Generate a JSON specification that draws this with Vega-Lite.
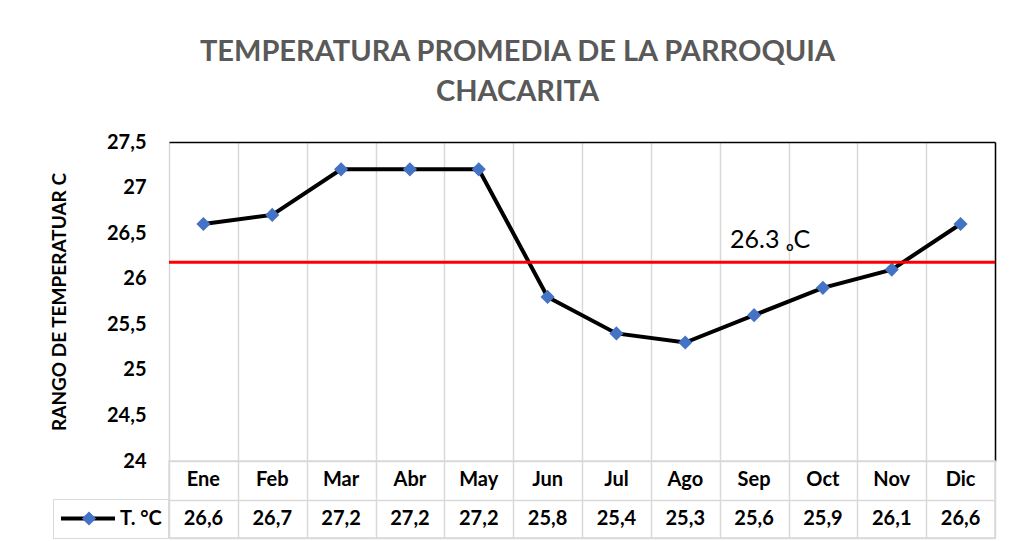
{
  "$schema": "https://vega.github.io/schema/vega-lite/v6.json",
  "background": "white",
  "padding": {"left": 50, "right": 16, "top": 38, "bottom": 4},
  "config": {
    "locale": {"number": {"decimal": ",", "thousands": ".", "grouping": [3], "currency": ["", " €"]}},
    "font": "Lato",
    "view": {"stroke": null}
  },
  "title": {
    "text": ["TEMPERATURA PROMEDIA DE LA PARROQUIA", "CHACARITA"],
    "fontSize": 29, "fontWeight": "bold", "color": "#595959", "lineHeight": 40,
    "anchor": "middle", "frame": "bounds", "offset": 25, "dx": -6, "font": "Lato"
  },
  "datasets": {
    "temps": [
      {"mes": "Ene", "temp": 26.6},
      {"mes": "Feb", "temp": 26.7},
      {"mes": "Mar", "temp": 27.2},
      {"mes": "Abr", "temp": 27.2},
      {"mes": "May", "temp": 27.2},
      {"mes": "Jun", "temp": 25.8},
      {"mes": "Jul", "temp": 25.4},
      {"mes": "Ago", "temp": 25.3},
      {"mes": "Sep", "temp": 25.6},
      {"mes": "Oct", "temp": 25.9},
      {"mes": "Nov", "temp": 26.1},
      {"mes": "Dic", "temp": 26.6}
    ],
    "referencia": [
      {"mes": "Sep", "valor": 26.18, "etiqueta": "26.3 ₒC"}
    ]
  },
  "bounds": "flush",
  "spacing": 0,
  "vconcat": [
    {
      "width": 826,
      "height": 319,
      "layer": [
        {
          "data": {"name": "temps"},
          "mark": {"type": "line", "strokeWidth": 4},
          "encoding": {
            "x": {"field": "mes", "type": "ordinal", "sort": null,
                  "scale": {"type": "band", "domain": ["Ene", "Feb", "Mar", "Abr", "May", "Jun", "Jul", "Ago", "Sep", "Oct", "Nov", "Dic"], "paddingInner": 0, "paddingOuter": 0},
                  "axis": {"orient": "bottom", "grid": true, "gridColor": "#d9d9d9", "gridWidth": 1.5, "tickBand": "extent",
                           "labels": false, "ticks": false, "domain": false, "title": null}},
            "y": {"field": "temp", "type": "quantitative",
                  "scale": {"domain": [24, 27.5], "nice": false, "zero": false},
                  "axis": {"orient": "left", "values": [24, 24.5, 25, 25.5, 26, 26.5, 27, 27.5], "format": ".1~f",
                           "grid": false, "domain": false, "ticks": false,
                           "labelFontSize": 20, "labelFontWeight": "bold", "labelColor": "black", "labelPadding": 23, "labelFont": "Lato",
                           "title": "RANGO DE TEMPERATUAR  C", "titleFontSize": 19, "titleFontWeight": "bold", "titleColor": "black",
                           "titlePadding": 37, "titleFont": "Lato"}},
            "stroke": {"datum": "T. °C", "scale": {"range": ["#000000"]},
                       "legend": {"orient": "none", "legendX": -116, "legendY": 357, "title": null,
                                  "symbolType": "stroke", "symbolSize": 2916, "symbolStrokeWidth": 4,
                                  "clipHeight": 27, "padding": 6, "strokeColor": "#d9d9d9",
                                  "labelFontSize": 20, "labelFontWeight": "bold", "labelColor": "black",
                                  "labelOffset": 3, "labelFont": "Lato"}}
          }
        },
        {
          "data": {"name": "temps"},
          "mark": {"type": "point", "shape": "diamond", "filled": true, "size": 200, "opacity": 1, "strokeWidth": 0},
          "encoding": {
            "x": {"field": "mes", "type": "ordinal", "sort": null,
                  "scale": {"type": "band", "domain": ["Ene", "Feb", "Mar", "Abr", "May", "Jun", "Jul", "Ago", "Sep", "Oct", "Nov", "Dic"], "paddingInner": 0, "paddingOuter": 0},
                  "axis": {"orient": "top", "grid": false, "labels": false, "ticks": false, "domain": true,
                           "domainColor": "#000000", "domainWidth": 1.5, "title": null}},
            "y": {"field": "temp", "type": "quantitative",
                  "scale": {"domain": [24, 27.5], "nice": false, "zero": false},
                  "axis": {"orient": "right", "grid": false, "labels": false, "ticks": false, "domain": true,
                           "domainColor": "#000000", "domainWidth": 1.5, "title": null}},
            "fill": {"datum": "T. °C ", "scale": {"range": ["#4472C4"]},
                     "legend": {"orient": "none", "legendX": -96, "legendY": 357, "title": null,
                                "symbolType": "diamond", "symbolSize": 200, "symbolStrokeWidth": 0,
                                "clipHeight": 27, "padding": 6, "labelExpr": "''",
                                "labelFontSize": 20, "labelFont": "Lato"}}
          }
        },
        {
          "data": {"name": "referencia"},
          "mark": {"type": "rule", "color": "#FF0000", "strokeWidth": 3},
          "encoding": {
            "y": {"field": "valor", "type": "quantitative",
                  "scale": {"domain": [24, 27.5], "nice": false, "zero": false}, "axis": null}
          }
        },
        {
          "data": {"name": "referencia"},
          "mark": {"type": "text", "align": "left", "baseline": "middle", "dx": -24, "dy": -22,
                   "fontSize": 25, "font": "Lato", "color": "#000000"},
          "encoding": {
            "x": {"field": "mes", "type": "ordinal", "sort": null, "axis": null,
                  "scale": {"type": "band", "domain": ["Ene", "Feb", "Mar", "Abr", "May", "Jun", "Jul", "Ago", "Sep", "Oct", "Nov", "Dic"], "paddingInner": 0, "paddingOuter": 0}},
            "y": {"field": "valor", "type": "quantitative",
                  "scale": {"domain": [24, 27.5], "nice": false, "zero": false}, "axis": null},
            "text": {"field": "etiqueta"}
          }
        }
      ],
      "resolve": {"axis": {"x": "independent", "y": "independent"}}
    },
    {
      "width": 826,
      "height": 77,
      "view": {"stroke": "#d9d9d9", "strokeWidth": 1.5},
      "data": {"name": "temps"},
      "layer": [
        {
          "mark": {"type": "text", "fontSize": 20, "fontWeight": "bold", "color": "#000000", "font": "Lato"},
          "encoding": {
            "x": {"field": "mes", "type": "ordinal", "sort": null,
                  "scale": {"type": "band", "domain": ["Ene", "Feb", "Mar", "Abr", "May", "Jun", "Jul", "Ago", "Sep", "Oct", "Nov", "Dic"], "paddingInner": 0, "paddingOuter": 0},
                  "axis": {"grid": true, "gridColor": "#d9d9d9", "gridWidth": 1.5, "tickBand": "extent",
                           "labels": false, "ticks": false, "domain": false, "title": null}},
            "y": {"datum": "Mes", "type": "nominal",
                  "scale": {"type": "band", "domain": ["Mes", "Valor"], "paddingInner": 0, "paddingOuter": 0},
                  "axis": {"grid": true, "gridColor": "#d9d9d9", "gridWidth": 1.5, "tickBand": "extent",
                           "labels": false, "ticks": false, "domain": false, "title": null}},
            "text": {"field": "mes"}
          }
        },
        {
          "mark": {"type": "text", "fontSize": 20, "fontWeight": "bold", "color": "#000000", "font": "Lato"},
          "encoding": {
            "x": {"field": "mes", "type": "ordinal", "sort": null,
                  "scale": {"type": "band", "domain": ["Ene", "Feb", "Mar", "Abr", "May", "Jun", "Jul", "Ago", "Sep", "Oct", "Nov", "Dic"], "paddingInner": 0, "paddingOuter": 0}},
            "y": {"datum": "Valor", "type": "nominal",
                  "scale": {"type": "band", "domain": ["Mes", "Valor"], "paddingInner": 0, "paddingOuter": 0}},
            "text": {"field": "temp", "type": "quantitative", "format": ".1f"}
          }
        }
      ]
    }
  ]
}
